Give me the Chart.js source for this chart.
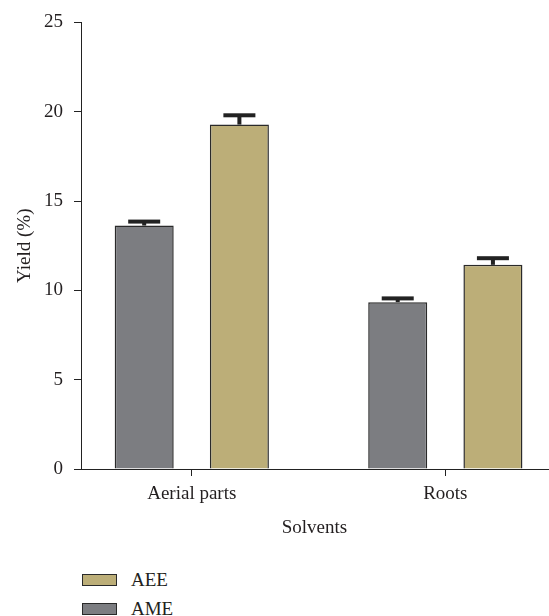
<!DOCTYPE html>
<html>
<head>
<meta charset="utf-8">
<script src="https://cdn.jsdelivr.net/npm/chart.js@4.4.1/dist/chart.umd.min.js"></script>
<style>
  body { margin: 0; background: #fff; }
  #wrap { position: relative; width: 549px; height: 616px; }
  #box { position: absolute; left: 0; top: 0; width: 549px; height: 550px; }
  #legend { position: absolute; left: 82px; top: 565px; font-family: "Liberation Serif", serif; font-size: 19px; color: #231f20; }
  .item { height: 29px; display: flex; align-items: center; }
  .swatch { width: 33px; height: 10px; border: 1.5px solid #2a2a2a; margin-right: 14px; }
</style>
</head>
<body>
<div id="wrap">
  <div id="box"><canvas id="yieldChart"></canvas></div>
  <div id="legend"></div>
</div>
<script>
    "use strict";

    // Data
    var categories = ['Aerial parts', 'Roots'];
    var seriesNames = ['AME', 'AEE'];
    var ameValues = [13.63, 9.34];
    var aeeValues = [19.28, 11.43];
    var ameErrors = [0.22, 0.21];
    var aeeErrors = [0.52, 0.37];
    var yTicks = [0, 5, 10, 15, 20, 25];

    var textColor = '#231f20';
    var serif = '"Liberation Serif", "Times New Roman", serif';

    function toPoints(values) {
        return values.map(function (v, i) { return { x: i, y: v }; });
    }

    // Draw the one-sided error bars on top of each bar
    var errorBars = {
        id: 'errorBars',
        afterDatasetsDraw: function (chart) {
            var ctx = chart.ctx;
            var yScale = chart.scales.y;
            chart.data.datasets.forEach(function (ds, di) {
                var meta = chart.getDatasetMeta(di);
                meta.data.forEach(function (bar, i) {
                    var top = yScale.getPixelForValue(ds.data[i].y + ds.errors[i]);
                    ctx.save();
                    ctx.fillStyle = '#222';
                    ctx.fillRect(bar.x - 2, top, 4, bar.y - top);
                    ctx.fillRect(bar.x - 16, top - 2, 32, 4);
                    ctx.restore();
                });
            });
        }
    };

    var ctx = document.getElementById('yieldChart').getContext('2d');
    var yieldChart = new Chart(ctx, {
        type: 'bar',
        data: {
            datasets: [{
                label: seriesNames[0],
                data: toPoints(ameValues),
                errors: ameErrors,
                backgroundColor: '#7c7d81',
                borderColor: '#2a2a2a',
                borderWidth: 1.5
            }, {
                label: seriesNames[1],
                data: toPoints(aeeValues),
                errors: aeeErrors,
                backgroundColor: '#bcae78',
                borderColor: '#2a2a2a',
                borderWidth: 1.5
            }]
        },
        options: {
            responsive: true,
            maintainAspectRatio: false,
            animation: false,
            categoryPercentage: 0.751,
            barPercentage: 0.62,
            layout: { padding: { top: 12, right: 1, bottom: 1, left: 0 } },
            plugins: {
                legend: { display: false },
                tooltip: { enabled: false }
            },
            scales: {
                x: {
                    type: 'linear',
                    min: -0.437,
                    max: 1.405,
                    offset: false,
                    afterBuildTicks: function (scale) {
                        scale.ticks = categories.map(function (c, i) { return { value: i }; });
                    },
                    afterFit: function (scale) { scale.height = 80; },
                    grid: { offset: false, drawOnChartArea: false, drawTicks: true, tickLength: 7, color: '#222', tickWidth: 1 },
                    border: { display: true, color: '#222', width: 1 },
                    ticks: {
                        color: textColor,
                        font: { family: serif, size: 19 },
                        padding: 7,
                        maxRotation: 0,
                        autoSkip: false,
                        callback: function (value) { return categories[value]; }
                    },
                    title: {
                        display: true,
                        text: 'Solvents',
                        color: textColor,
                        font: { family: serif, size: 19 },
                        padding: { top: 4, bottom: 10 }
                    }
                },
                y: {
                    min: 0,
                    max: 25,
                    afterBuildTicks: function (scale) {
                        scale.ticks = yTicks.map(function (v) { return { value: v }; });
                    },
                    afterFit: function (scale) { scale.width = 81; },
                    grid: { drawOnChartArea: false, drawTicks: true, tickLength: 7, color: '#222', tickWidth: 1 },
                    border: { display: true, color: '#222', width: 1 },
                    ticks: {
                        color: textColor,
                        font: { family: serif, size: 19 },
                        padding: 11
                    },
                    title: {
                        display: true,
                        text: 'Yield (%)',
                        color: textColor,
                        font: { family: serif, size: 19 },
                        padding: { top: 14, bottom: 4 }
                    }
                }
            }
        },
        plugins: [errorBars]
    });

    // Legend below the chart, listed in reverse dataset order like the figure
    var legendEl = document.getElementById('legend');
    yieldChart.data.datasets.slice().reverse().forEach(function (ds) {
        var item = document.createElement('div');
        item.className = 'item';
        var sw = document.createElement('span');
        sw.className = 'swatch';
        sw.style.background = ds.backgroundColor;
        var label = document.createElement('span');
        label.textContent = ds.label;
        item.appendChild(sw);
        item.appendChild(label);
        legendEl.appendChild(item);
    });
</script>
</body>
</html>
